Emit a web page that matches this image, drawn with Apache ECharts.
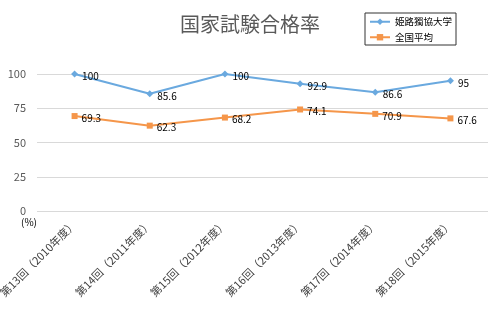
<!DOCTYPE html>
<html><head><meta charset="utf-8">
<script src="https://cdn.jsdelivr.net/npm/echarts@6/dist/echarts.min.js"></script>
<style>html,body{margin:0;padding:0;background:#fff}#c{width:491px;height:328px}</style>
</head><body><div id="c"></div>
<script>
var categories = ['第13回（2010年度）','第14回（2011年度）','第15回（2012年度）','第16回（2013年度）','第17回（2014年度）','第18回（2015年度）'];
var himeji = [100, 85.6, 100, 92.9, 86.6, 95];
var national = [69.3, 62.3, 68.2, 74.1, 70.9, 67.6];
var yTicks = [0, 25, 50, 75, 100];
var F = '"Noto Sans CJK JP", "Noto Sans", sans-serif';
var chart = echarts.init(document.getElementById('c'));
chart.setOption({
  backgroundColor: '#fff',
  animation: false,
  textStyle: {fontFamily: F},
  title: {text: '国家試験合格率', left: 245, textAlign: 'center', top: 9,
    textStyle: {fontSize: 20, fontWeight: 'normal', color: '#595959', fontFamily: F}},
  legend: {orient: 'vertical', left: 365, top: 13, padding: [4, 4, 3, 4], itemGap: 6,
    itemWidth: 20, itemHeight: 8, borderColor: '#333', borderWidth: 1,
    textStyle: {fontSize: 9.5, color: '#000', fontFamily: F},
    data: ['姫路獨協大学', '全国平均']},
  grid: {left: 37, right: 3, top: 74, bottom: 117, containLabel: false, outerBoundsMode: 'none'},
  xAxis: {type: 'category', data: categories, boundaryGap: true,
    axisLine: {show: false}, axisTick: {show: false},
    axisLabel: {rotate: 45, fontSize: 11, color: '#404040', margin: 11, interval: 0, fontFamily: F}},
  yAxis: {type: 'value', min: yTicks[0], max: yTicks[yTicks.length-1], interval: 25,
    name: '(%)', nameLocation: 'start', nameGap: 6,
    nameTextStyle: {fontSize: 10, color: '#000', align: 'right', verticalAlign: 'top', fontFamily: F},
    axisLine: {show: false}, axisTick: {show: false},
    axisLabel: {fontSize: 11, color: '#595959', margin: 11, fontFamily: F},
    splitLine: {lineStyle: {color: '#d9d9d9', width: 1}}},
  series: [
    {name: '姫路獨協大学', type: 'line', data: himeji, symbol: 'diamond', symbolSize: 7,
      itemStyle: {color: '#6aa9df'}, lineStyle: {width: 2, color: '#6aa9df'},
      label: {show: true, position: 'right', distance: 4, offset: [0, 2], fontSize: 10, color: '#000', fontFamily: F}},
    {name: '全国平均', type: 'line', data: national, symbol: 'rect', symbolSize: 6,
      itemStyle: {color: '#f5964a'}, lineStyle: {width: 2, color: '#f5964a'},
      label: {show: true, position: 'right', distance: 4, offset: [0, 2], fontSize: 10, color: '#000', fontFamily: F}}
  ]
});
</script></body></html>
